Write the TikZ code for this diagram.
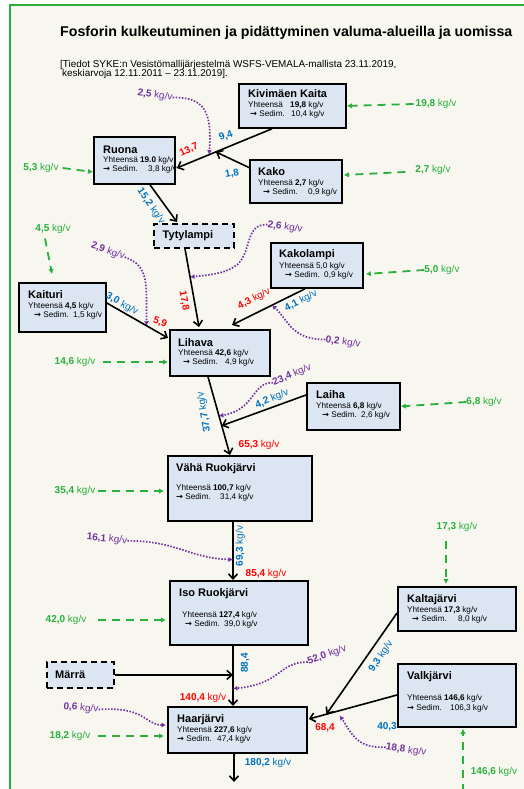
\documentclass[tikz,border=0pt]{standalone}
\usepackage{fontspec}
\setmainfont{Liberation Sans}
\newfontfamily\arrf{DejaVu Sans}
\usetikzlibrary{arrows.meta,calc}
\definecolor{gr}{RGB}{40,175,60}
\definecolor{pu}{RGB}{112,48,160}
\definecolor{bl}{RGB}{0,112,192}
\definecolor{rd}{RGB}{255,0,0}
\definecolor{boxf}{RGB}{220,230,242}
\definecolor{bgc}{RGB}{247,247,239}
\newcommand\kgv{{\mdseries kg/v}}
\newcommand\yh[1]{\makebox[#1][l]{Yhteensä}}
\newcommand\sd[1]{\makebox[#1][l]{{\arrf\bfseries →} Sedim.}}
\begin{document}
\begin{tikzpicture}[x=1pt,y=-1pt,
  box/.style={draw=black,line width=1.8pt,fill=boxf,inner sep=0pt,anchor=north west},
  dbox/.style={box,dash pattern=on 6pt off 4pt},
  ttl/.style={font=\fontsize{11}{12}\selectfont\bfseries,anchor=base west,inner sep=0pt,text height=7.5pt,text depth=1pt},
  txt/.style={font=\fontsize{8.2}{9}\selectfont,anchor=base west,inner sep=0pt,text height=5.6pt,text depth=0.8pt},
  lab/.style={font=\fontsize{10}{11}\selectfont\bfseries,inner sep=0pt,text height=7pt,text depth=1.5pt},
  glab/.style={lab,text=gr},
  plab/.style={lab,text=pu},
  blab/.style={lab,text=bl},
  rlab/.style={lab,text=rd},
  flow/.style={draw=black,line width=1.6pt,-{Straight Barb[length=5pt,width=9pt]}},
  gflow/.style={draw=gr,line width=1.8pt,dash pattern=on 8pt off 6pt,-{Latex[length=5pt,width=5.5pt]}},
  pflow/.style={draw=pu,line width=1.7pt,dash pattern=on 1.5pt off 1.6pt,-{Latex[length=4.5pt,width=5pt]}}
]
\useasboundingbox (0,0) rectangle (524,789);
\fill[white] (0,0) rectangle (524,789);
\fill[bgc] (10,5) rectangle (524,789);
\draw[gr,line width=2.5pt] (10,789) -- (10,5) -- (524,5);

% title
\node[anchor=base west,inner sep=0pt,font=\fontsize{14.2}{16}\selectfont\bfseries] (title) at (60,37)
  {Fosforin kulkeutuminen ja pidättyminen valuma-alueilla ja uomissa};
\node[anchor=base west,inner sep=0pt,text height=7pt,text depth=1.5pt,font=\fontsize{9.9}{10}\selectfont] (sub1) at (60,68)
  {[Tiedot SYKE:n Vesistömallijärjestelmä WSFS-VEMALA-mallista 23.11.2019,};
\node[anchor=base west,inner sep=0pt,text height=7pt,text depth=1.5pt,font=\fontsize{9.9}{10}\selectfont] (sub2) at (62,77)
  {keskiarvoja 12.11.2011 – 23.11.2019].};

% boxes
\node[box,minimum width=107pt,minimum height=44pt] (kk) at (238,83) {};
\node[ttl] (kkT) at (248,98) {Kivimäen Kaita};
\node[txt] (kk1) at (248,108) {\yh{42pt}\textbf{19,8} kg/v};
\node[txt] (kk2) at (250,116.5) {\sd{41pt}10,4 kg/v};

\node[box,minimum width=81pt,minimum height=47pt] (ru) at (93,136) {};
\node[ttl] (ruT) at (103,153) {Ruona};
\node[txt] (ru1) at (103,162.5) {Yhteensä \textbf{19.0} kg/v};
\node[txt] (ru2) at (103,171) {\sd{45pt}3,8 kg/v};

\node[box,minimum width=92pt,minimum height=43pt] (ko) at (249,159) {};
\node[ttl] (koT) at (258,175) {Kako};
\node[txt] (ko1) at (258,185) {Yhteensä \textbf{2,7} kg/v};
\node[txt] (ko2) at (263,194) {\sd{45pt}0,9 kg/v};

\node[dbox,minimum width=80pt,minimum height=24pt] (ty) at (153,223) {};
\node[ttl,anchor=center] (tyT) at (188,235) {Tytylampi};

\node[box,minimum width=92pt,minimum height=45pt] (kl) at (270,242) {};
\node[ttl] (klT) at (279,257) {Kakolampi};
\node[txt] (kl1) at (279,268) {Yhteensä 5,0 kg/v};
\node[txt] (kl2) at (285,277) {\sd{39pt}0,9 kg/v};

\node[box,minimum width=87pt,minimum height=49pt] (ka) at (18,282) {};
\node[ttl] (kaT) at (28,298) {Kaituri};
\node[txt] (ka1) at (28,308) {Yhteensä \textbf{4,5} kg/v};
\node[txt] (ka2) at (34,317) {\sd{39pt}1,5 kg/v};

\node[box,minimum width=100pt,minimum height=46pt] (li) at (169,329) {};
\node[ttl] (liT) at (178,346) {Lihava};
\node[txt] (li1) at (178,355) {Yhteensä \textbf{42,6} kg/v};
\node[txt] (li2) at (183,364) {\sd{42pt}4,9 kg/v};

\node[box,minimum width=93pt,minimum height=47pt] (la) at (306,382) {};
\node[ttl] (laT) at (316,398) {Laiha};
\node[txt] (la1) at (316,408) {Yhteensä \textbf{6,8} kg/v};
\node[txt] (la2) at (322,417) {\sd{39pt}2,6 kg/v};

\node[box,minimum width=144pt,minimum height=65pt] (vr) at (167,455) {};
\node[ttl] (vrT) at (176,471) {Vähä Ruokjärvi};
\node[txt] (vr1) at (176,490) {Yhteensä \textbf{100,7} kg/v};
\node[txt] (vr2) at (176,499) {\sd{44pt}31,4 kg/v};

\node[box,minimum width=138pt,minimum height=64pt] (ir) at (169,580) {};
\node[ttl] (irT) at (179,596) {Iso Ruokjärvi};
\node[txt] (ir1) at (182,617) {Yhteensä \textbf{127,4} kg/v};
\node[txt] (ir2) at (185,626) {\sd{39pt}39,0 kg/v};

\node[dbox,minimum width=67pt,minimum height=26pt] (mr) at (46,661) {};
\node[ttl] (mrT) at (55,678) {Märrä};

\node[box,minimum width=139pt,minimum height=46pt] (ha) at (167,706) {};
\node[ttl] (haT) at (177,722) {Haarjärvi};
\node[txt] (ha1) at (177,732) {Yhteensä \textbf{227,6} kg/v};
\node[txt] (ha2) at (177,741) {\sd{40pt}47,4 kg/v};

\node[box,minimum width=118pt,minimum height=44pt] (kt) at (397,586) {};
\node[ttl] (ktT) at (407,602) {Kaltajärvi};
\node[txt] (kt1) at (407,612) {Yhteensä \textbf{17,3} kg/v};
\node[txt] (kt2) at (412,621) {\sd{46pt}8,0 kg/v};

\node[box,minimum width=118pt,minimum height=63pt] (vk) at (397,663) {};
\node[ttl] (vkT) at (407,679) {Valkjärvi};
\node[txt] (vk1) at (407,700) {Yhteensä \textbf{146,6} kg/v};
\node[txt] (vk2) at (407,710) {\sd{43pt}106,3 kg/v};

% labels
\node[plab,rotate=-8] (p25) at (155,95) {2,5 \kgv};
\node[blab,rotate=20] (b94) at (226,136) {9,4};
\node[rlab,rotate=25] (r137) at (189,150) {13,7};
\node[blab,rotate=10] (b18) at (232,174) {1,8};
\node[glab] (g198) at (436,104) {19,8 \kgv};
\node[glab] (g27) at (433,170) {2,7 \kgv};
\node[glab] (g53) at (41,168) {5,3 \kgv};
\node[blab,rotate=-55] (b152) at (151,206) {15,2 \kgv};
\node[glab] (g45) at (53,229) {4,5 \kgv};
\node[plab,rotate=-20] (p29) at (108,251) {2,9 \kgv};
\node[plab,rotate=-8] (p26) at (285,227) {2,6 \kgv};
\node[rlab,rotate=-80] (r178) at (184,301) {17,8};
\node[glab] (g50) at (442,270) {5,0 \kgv};
\node[blab,rotate=-29] (b30) at (122,304) {3,0 \kgv};
\node[rlab,rotate=-20] (r59) at (160,322) {5,9};
\node[rlab,rotate=27] (r43) at (254,299) {4,3 \kgv};
\node[blab,rotate=27] (b41) at (301,301) {4,1 \kgv};
\node[plab,rotate=-8] (p02) at (343,342) {0,2 \kgv};
\node[glab] (g146) at (75,362) {14,6 \kgv};
\node[plab,rotate=22] (p234) at (292,375) {23,4 \kgv};
\node[blab,rotate=22] (b42) at (272,399) {4,2 \kgv};
\node[glab] (g68) at (484,402) {6,8 \kgv};
\node[blab,rotate=100] (b377) at (204,412) {37,7 \kgv};
\node[rlab] (r653) at (259,445) {65,3 \kgv};
\node[glab] (g354) at (75,491) {35,4 \kgv};
\node[glab] (g173) at (457,527) {17,3 \kgv};
\node[plab,rotate=-5] (p161) at (107,539) {16,1 \kgv};
\node[blab,rotate=90] (b693) at (240,546) {69,3 \kgv};
\node[rlab] (r854) at (266,574) {85,4 \kgv};
\node[glab] (g420) at (66,620) {42,0 \kgv};
\node[plab,rotate=20] (p520) at (327,655) {52,0 \kgv};
\node[blab,rotate=56] (b93) at (381,656) {9,3 \kgv};
\node[blab,rotate=90] (b884) at (245,663) {88,4};
\node[rlab] (r1404) at (203,698) {140,4 \kgv};
\node[plab,rotate=-5] (p06) at (81,708) {0,6 \kgv};
\node[rlab] (r684) at (325,728) {68,4};
\node[blab] (b403) at (387,727) {40,3};
\node[glab] (g182) at (70,736) {18,2 \kgv};
\node[plab,rotate=-8] (p188) at (406,750) {18,8 \kgv};
\node[blab] (b1802) at (268,763) {180,2 \kgv};
\node[glab] (g1466) at (494,772) {146,6 \kgv};

% connection points
\coordinate (kkout) at ($(kk.south west)+(34,0)$);
\coordinate (ruin) at ($(ru.north east)+(1,32)$);
\coordinate (j1) at ($(kkout)!0.59!(ruin)$);
\coordinate (j2) at ($(kkout)!0.66!(ruin)$);
\coordinate (tyout) at ($(ty.south west)+(32,0)$);
\coordinate (liin1) at ($(li.north west)+(30,-2)$);
\coordinate (j3) at ($(tyout)!0.36!(liin1)$);
\coordinate (kaout) at ($(ka.north east)+(0,21)$);
\coordinate (liin2) at ($(li.north west)+(-1,9)$);
\coordinate (j4) at ($(kaout)!0.65!(liin2)$);
\coordinate (klout) at ($(kl.south west)+(35,0)$);
\coordinate (liin3) at ($(li.north west)+(63,-4)$);
\coordinate (j5) at ($(klout)!0.45!(liin3)$);
\coordinate (liout) at ($(li.south west)+(39,0)$);
\coordinate (vrin) at ($(vr.north west)+(63,0)$);
\coordinate (j6) at ($(liout)!0.625!(vrin)$);
\coordinate (j7) at ($(liout)!0.5!(vrin)$);
\coordinate (vrout) at ($(vr.south west)+(66,0)$);
\coordinate (irin) at ($(ir.north west)+(64,0)$);
\coordinate (j8) at ($(vrout)!0.65!(irin)$);
\coordinate (irout) at ($(ir.south west)+(64,0)$);
\coordinate (hain) at ($(ha.north west)+(66,0)$);
\coordinate (j10) at ($(irout)!0.71!(hain)$);
\coordinate (haout) at ($(ha.south west)+(67,0)$);
\coordinate (hend) at (234,782);
\coordinate (vkout) at ($(vk.north west)+(0,32)$);
\coordinate (hain2) at ($(ha.north east)+(1,13)$);
\coordinate (j11) at ($(vkout)!0.8!(hain2)$);
\coordinate (j12) at ($(vkout)!0.65!(hain2)$);
\coordinate (g1466s) at (463,792);

% black flows
\draw[flow] (kkout) -- (ruin);
\draw[flow] ($(ko.north west)+(1,9)$) -- (j1);
\draw[flow] ($(ru.south west)+(57,0)$) -- ($(ty.north west)+(24,-1)$);
\draw[flow] (tyout) -- (liin1);
\draw[flow] (kaout) -- (liin2);
\draw[flow] (klout) -- (liin3);
\draw[flow] (liout) -- (vrin);
\draw[flow] ($(la.north west)+(0,13)$) -- (j6);
\draw[flow] (vrout) -- (irin);
\draw[flow] (irout) -- (hain);
\draw[flow] (mr.east) -- (mr.east -| irout);
\draw[flow] (haout) -- (hend);
\draw[flow] (vkout) -- (hain2);
\draw[flow] ($(kt.north west)+(0,27)$) -- (j11);

% purple flows
\draw[pflow] (p25.east) .. controls (205,97) and (212,112) .. (j2);
\draw[pflow] (p26.west) .. controls (245,224) and (252,250) .. (238,264) .. controls (228,273) and (210,275) .. (j3);
\draw[pflow] (p29.east) .. controls (150,266) and (146,285) .. (j4);
\draw[pflow] (p02.west) .. controls (292,340) and (288,320) .. (j5);
\draw[pflow] (p234.west) .. controls (252,382) and (255,410) .. (j7);
\draw[pflow] (p161.east) .. controls (178,541) and (188,558) .. (j8);
\draw[pflow] (p520.west) .. controls (278,662) and (282,684) .. (j10);
\draw[pflow] (p06.east) .. controls (145,706) and (145,725) .. ($(ha.north west)+(-1,19)$);
\draw[pflow] (p188.west) .. controls (355,749) and (350,730) .. ($(j12)+(0,5)$);

% green flows
\draw[gflow] ($(g198.west)+(-2,0)$) -- (kk.east);
\draw[gflow] ($(g27.west)+(-10,2)$) -- ($(ko.north east)+(1,16)$);
\draw[gflow] ($(g53.east)+(4,0)$) -- ($(ru.north west)+(0,36)$);
\draw[gflow] ($(g45.south)+(-8,5)$) -- ($(ka.north west)+(34,-8)$);
\draw[gflow] (g50.west) -- ($(kl.north east)+(2,32)$);
\draw[gflow] ($(g146.east)+(8,0)$) -- ($(li.north west)+(-1,33)$);
\draw[gflow] (g68.west) -- (la.east);
\draw[gflow] ($(g354.east)+(3,0)$) -- ($(vr.north west)+(-3,36)$);
\draw[gflow] ($(g173.south)+(-11,10)$) -- ($(kt.north west)+(49,-2)$);
\draw[gflow] ($(g420.east)+(12,0)$) -- ($(ir.north west)+(-3,40)$);
\draw[gflow] ($(g182.east)+(8,0)$) -- ($(ha.north west)+(-3,30)$);
\draw[gflow] (g1466s) -- ($(vk.south west)+(66,1)$);
\end{tikzpicture}
\end{document}
